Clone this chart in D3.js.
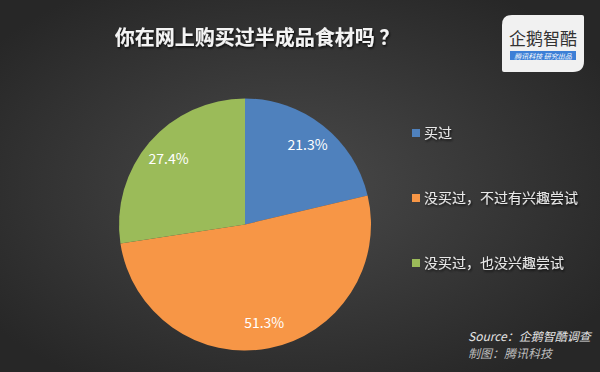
<!DOCTYPE html>
<meta charset="utf-8">
<style>
    body { margin: 0; background: #2b2b2b; }
    svg { display: block; font-family: "Microsoft YaHei", "Noto Sans CJK SC", sans-serif; }
    .title { fill: #f4f4f4; font-size: 20px; font-weight: bold; }
    .legend text { fill: #e8e8e8; font-size: 14px; }
    .pct { fill: #ffffff; font-size: 14px; }
    .src { font-style: italic; font-size: 12px; }
</style>
<svg width="600" height="372"></svg>
<script src="https://cdn.jsdelivr.net/npm/d3@7"></script>
<script>
    // 数据
    var categories = ["买过", "没买过，不过有兴趣尝试", "没买过，也没兴趣尝试"];
    var values = [21.3, 51.3, 27.4];
    var colors = ["#4f81bd", "#f79646", "#9bbb59"];
    var title = "你在网上购买过半成品食材吗 ？";

    var svg = d3.select("svg"),
        width = +svg.attr("width"),
        height = +svg.attr("height");

    var defs = svg.append("defs");

    // 背景径向渐变
    var bg = defs.append("radialGradient")
        .attr("id", "bg")
        .attr("cx", "48%").attr("cy", "50%").attr("r", "62%");
    bg.append("stop").attr("offset", "0%").attr("stop-color", "#4a4a4a");
    bg.append("stop").attr("offset", "100%").attr("stop-color", "#272727");

    var shadow = defs.append("filter").attr("id", "shadow")
        .attr("x", "-10%").attr("y", "-30%").attr("width", "120%").attr("height", "160%");
    shadow.append("feDropShadow")
        .attr("dx", 1).attr("dy", 1.5).attr("stdDeviation", 1)
        .attr("flood-color", "#000").attr("flood-opacity", 0.8);

    svg.append("rect")
        .attr("width", width)
        .attr("height", height)
        .attr("fill", "url(#bg)");

    svg.append("text")
        .attr("class", "title")
        .attr("x", 257)
        .attr("y", 45)
        .attr("text-anchor", "middle")
        .attr("filter", "url(#shadow)")
        .text(title);

    // 饼图
    var cx = 245, cy = 224.5, radius = 126;

    var pie = d3.pie().sort(null).value(function (d) { return d; });
    var arc = d3.arc().innerRadius(0).outerRadius(radius);
    var labelArc = d3.arc().innerRadius(radius * 0.8).outerRadius(radius * 0.8);

    var g = svg.append("g")
        .attr("transform", "translate(" + cx + "," + cy + ")");

    var arcs = pie(values);

    g.selectAll("path")
        .data(arcs)
        .enter().append("path")
        .attr("d", arc)
        .attr("fill", function (d, i) { return colors[i]; });

    g.selectAll(".pct")
        .data(arcs)
        .enter().append("text")
        .attr("class", "pct")
        .attr("transform", function (d) { return "translate(" + labelArc.centroid(d) + ")"; })
        .attr("text-anchor", "middle")
        .attr("dy", "0.35em")
        .text(function (d) { return d.data.toFixed(1) + "%"; });

    // 图例
    var ly = d3.scalePoint().domain(categories).range([133, 263]);

    var legend = svg.append("g").attr("class", "legend")
        .selectAll("g")
        .data(categories)
        .enter().append("g")
        .attr("transform", function (d) { return "translate(412," + ly(d) + ")"; });

    legend.append("rect")
        .attr("y", -4)
        .attr("width", 8)
        .attr("height", 8)
        .attr("fill", function (d, i) { return colors[i]; });

    legend.append("text")
        .attr("x", 12)
        .attr("dy", "0.36em")
        .attr("filter", "url(#shadow)")
        .text(function (d) { return d; });

    // 来源
    svg.append("text")
        .attr("class", "src")
        .attr("x", 468).attr("y", 341)
        .attr("fill", "#e4e4e4")
        .text("Source：企鹅智酷调查");

    svg.append("text")
        .attr("class", "src")
        .attr("x", 468).attr("y", 358)
        .attr("fill", "#bdbdbd")
        .text("制图：腾讯科技");

    // logo
    var logo = svg.append("g").attr("transform", "translate(502,15)");
    logo.append("path")
        .attr("d", "M10,0 H80 Q82,0 82,2 V46 Q82,57 71,57 H2 Q0,57 0,55 V10 Q0,0 10,0 Z")
        .attr("fill", "#f1f1f1");
    logo.append("text")
        .attr("x", 41).attr("y", 30)
        .attr("text-anchor", "middle")
        .attr("font-size", 17)
        .attr("fill", "#333")
        .text("企鹅智酷");
    logo.append("rect")
        .attr("x", 8).attr("y", 36)
        .attr("width", 66).attr("height", 9)
        .attr("fill", "#3d7fd6");
    logo.append("text")
        .attr("x", 41).attr("y", 43.5)
        .attr("text-anchor", "middle")
        .attr("font-size", 7)
        .attr("font-style", "italic")
        .attr("fill", "#fff")
        .text("腾讯科技  研究出品");
</script>
